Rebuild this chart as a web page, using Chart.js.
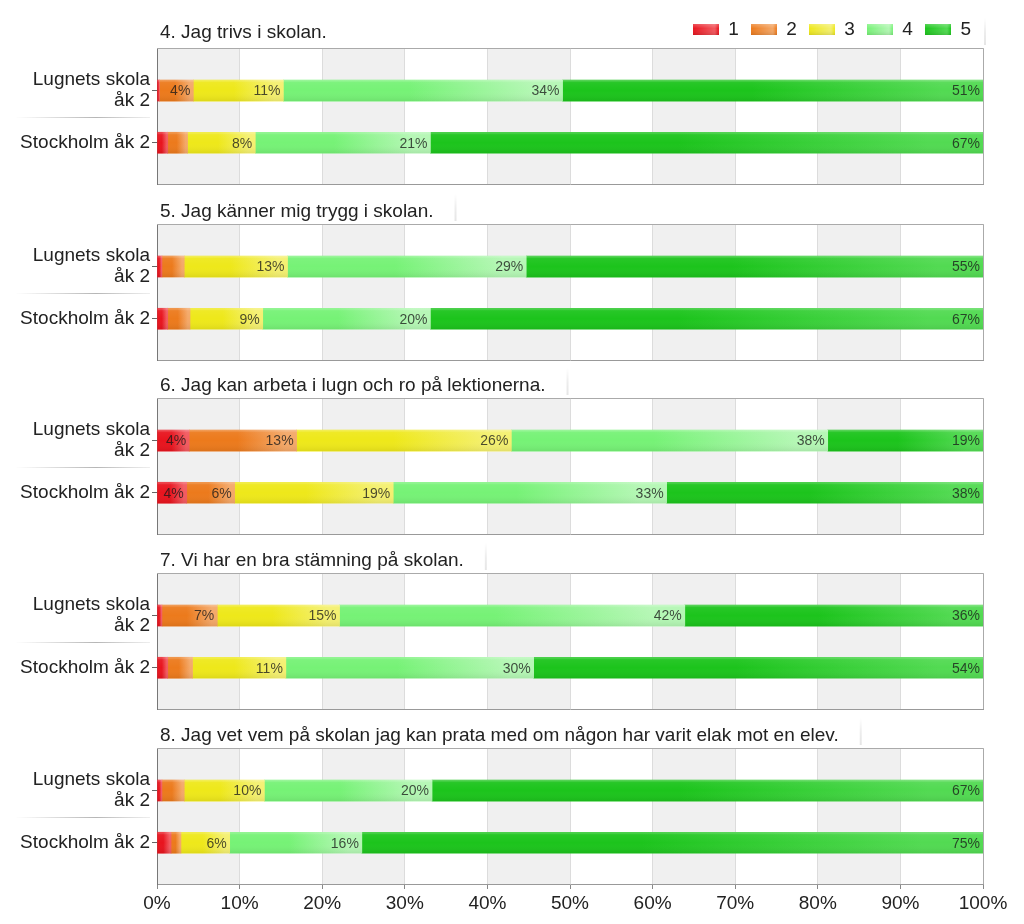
<!DOCTYPE html>
<html><head><meta charset="utf-8">
<script src="https://cdn.jsdelivr.net/npm/chart.js@4.4.0/dist/chart.umd.min.js"></script>
<style>
html,body{margin:0;padding:0;background:#fff;width:1024px;height:924px;overflow:hidden}
#wrap{position:relative;width:1024px;height:924px}
#wrap canvas{position:absolute;left:0}
</style></head><body>
<div id="wrap"></div>
<script>
// ---------- DATA ----------
const CATEGORIES = [['Lugnets skola', 'åk 2'], 'Stockholm åk 2'];
const SERIES_LABELS = ['1', '2', '3', '4', '5'];
const X_TICKS = [0, 10, 20, 30, 40, 50, 60, 70, 80, 90, 100];
const QUESTIONS = [
  '4. Jag trivs i skolan.',
  '5. Jag känner mig trygg i skolan.',
  '6. Jag kan arbeta i lugn och ro på lektionerna.',
  '7. Vi har en bra stämning på skolan.',
  '8. Jag vet vem på skolan jag kan prata med om någon har varit elak mot en elev.'
];
// values per answer 1..5 (percent)
const Q4_LUGNETS   = [0.3, 4.1, 10.9, 33.8, 50.9];
const Q4_STOCKHOLM = [1.3, 2.4, 8.2, 21.2, 66.9];
const Q5_LUGNETS   = [0.6, 2.7, 12.5, 28.9, 55.3];
const Q5_STOCKHOLM = [1.3, 2.7, 8.8, 20.3, 66.9];
const Q6_LUGNETS   = [3.9, 13.0, 26.0, 38.3, 18.8];
const Q6_STOCKHOLM = [3.6, 5.8, 19.2, 33.1, 38.3];
const Q7_LUGNETS   = [0.6, 6.7, 14.8, 41.8, 36.1];
const Q7_STOCKHOLM = [1.3, 3.0, 11.3, 30.0, 54.4];
const Q8_LUGNETS   = [0.6, 2.7, 9.7, 20.3, 66.7];
const Q8_STOCKHOLM = [1.7, 1.2, 5.9, 16.0, 75.2];

const ROWS = [
  [Q4_LUGNETS, Q4_STOCKHOLM],
  [Q5_LUGNETS, Q5_STOCKHOLM],
  [Q6_LUGNETS, Q6_STOCKHOLM],
  [Q7_LUGNETS, Q7_STOCKHOLM],
  [Q8_LUGNETS, Q8_STOCKHOLM]
];

// ---------- STYLE ----------
const BASE  = ['#e8141e', '#ec7a1c', '#eee81a', '#76f276', '#1cc41c'];
const LIGHT = ['#f25a60', '#f4a868', '#f4f070', '#b4f7b4', '#52da52'];
const FONT = '"Liberation Sans", Arial, sans-serif';
const PANEL_TOPS = [48, 224, 398, 573, 748];
const BOX_H = 136;

function swatch(i) {
  const c = document.createElement('canvas');
  c.width = 26; c.height = 11;
  const g = c.getContext('2d');
  const lg = g.createLinearGradient(0, 0, 26, 0);
  lg.addColorStop(0, BASE[i]); lg.addColorStop(0.85, LIGHT[i]); lg.addColorStop(1, BASE[i]);
  g.fillStyle = lg; g.fillRect(0, 0, 26, 11);
  const vg = g.createLinearGradient(0, 0, 0, 11);
  vg.addColorStop(0, 'rgba(255,255,255,0.25)'); vg.addColorStop(0.4, 'rgba(255,255,255,0)'); vg.addColorStop(1, 'rgba(0,0,0,0.1)');
  g.fillStyle = vg; g.fillRect(0, 0, 26, 11);
  return c;
}
const SWATCHES = SERIES_LABELS.map((_, i) => swatch(i));

const wrap = document.getElementById('wrap');

ROWS.forEach((rows, p) => {
  const last = p === ROWS.length - 1;
  const first = p === 0;
  const top = PANEL_TOPS[p] - 48;
  const h = last ? 924 - top : 48 + BOX_H + 2;
  const cv = document.createElement('canvas');
  cv.width = 1024; cv.height = h;
  cv.style.top = top + 'px'; cv.style.width = '1024px'; cv.style.height = h + 'px';
  wrap.appendChild(cv);

  const datasets = SERIES_LABELS.map((lab, s) => ({
    label: lab,
    data: rows.map((r, i) => ({ x: r[s], y: i })),
    barThickness: 21,
    borderWidth: 0,
    backgroundColor: (ctx) => {
      const chart = ctx.chart;
      const xs = chart.scales && chart.scales.x;
      if (!xs || ctx.type !== 'data') return BASE[s];
      const r = rows[ctx.dataIndex];
      let start = 0;
      for (let k = 0; k < s; k++) start += r[k];
      const x0 = xs.getPixelForValue(start), x1 = xs.getPixelForValue(start + r[s]);
      if (!isFinite(x0) || !isFinite(x1) || x1 - x0 < 1) return BASE[s];
      const g = chart.ctx.createLinearGradient(x0, 0, x1, 0);
      g.addColorStop(0, BASE[s]); g.addColorStop(0.45, BASE[s]); g.addColorStop(0.9, LIGHT[s]); g.addColorStop(1, LIGHT[s]);
      return g;
    }
  }));

  const panelPlugin = {
    id: 'panel' + p,
    afterInit(chart) {
      if (first && chart.legend) {
        const lg = chart.legend; const orig = lg.fit;
        lg.fit = function () { orig.call(this); this.height = 40; };
      }
    },
    beforeDraw(chart) {
      const { ctx, chartArea: a } = chart; const xs = chart.scales.x;
      ctx.save();
      ctx.fillStyle = '#f0f0f0';
      for (let k = 0; k < X_TICKS.length - 1; k += 2) {
        const x0 = xs.getPixelForValue(X_TICKS[k]), x1 = xs.getPixelForValue(X_TICKS[k + 1]);
        ctx.fillRect(x0, a.top, x1 - x0, a.bottom - a.top);
      }
      ctx.restore();
    },
    afterDatasetsDraw(chart) {
      const ctx = chart.ctx;
      ctx.save();
      chart.data.datasets.forEach((ds, di) => {
        const meta = chart.getDatasetMeta(di);
        meta.data.forEach((el) => {
          const x0 = Math.min(el.base, el.x), w = Math.abs(el.x - el.base);
          const y0 = el.y - el.height / 2;
          if (w > 0) {
            const vg = ctx.createLinearGradient(0, y0, 0, y0 + el.height);
            vg.addColorStop(0, 'rgba(255,255,255,0.3)');
            vg.addColorStop(0.12, 'rgba(255,255,255,0.05)');
            vg.addColorStop(0.5, 'rgba(255,255,255,0)');
            vg.addColorStop(1, 'rgba(0,0,0,0.07)');
            ctx.fillStyle = vg;
            ctx.fillRect(x0, y0, w, el.height);
          }
        });
      });
      ctx.font = '14px ' + FONT;
      ctx.textAlign = 'right'; ctx.textBaseline = 'middle';
      ctx.fillStyle = 'rgba(25,25,25,0.78)';
      chart.data.datasets.forEach((ds, di) => {
        const meta = chart.getDatasetMeta(di);
        meta.data.forEach((el, i) => {
          const v = ds.data[i].x;
          if (v >= 3.5) ctx.fillText(Math.round(v) + '%', el.x - 3, el.y + 1);
        });
      });
      ctx.restore();
    },
    afterDraw(chart) {
      const { ctx, chartArea: a } = chart; const ys = chart.scales.y;
      ctx.save();
      ctx.strokeStyle = '#aaa'; ctx.lineWidth = 1;
      ctx.beginPath();
      ctx.moveTo(a.left, a.top + 0.5); ctx.lineTo(a.right + 0.5, a.top + 0.5);
      ctx.lineTo(a.right + 0.5, a.bottom);
      ctx.stroke();
      // separator between category labels
      const ym = Math.round(ys.getPixelForValue(0.5)) + 0.5;
      const sg = ctx.createLinearGradient(15, 0, 150, 0);
      sg.addColorStop(0, 'rgba(160,160,160,0)');
      sg.addColorStop(0.6, 'rgba(150,150,150,0.7)');
      sg.addColorStop(1, 'rgba(170,170,170,0.2)');
      ctx.strokeStyle = sg;
      ctx.beginPath(); ctx.moveTo(15, ym); ctx.lineTo(150, ym); ctx.stroke();
      // title
      ctx.font = '19px ' + FONT;
      ctx.fillStyle = '#222'; ctx.textAlign = 'left'; ctx.textBaseline = 'middle';
      const ty = a.top - (first ? 15 : 12);
      ctx.fillText(QUESTIONS[p], 160, ty);
      const tw = ctx.measureText(QUESTIONS[p]).width;
      const lx = first ? a.right + 2 : 160 + tw + 22;
      const lg2 = ctx.createLinearGradient(0, a.top - 30, 0, a.top - 2);
      lg2.addColorStop(0, 'rgba(0,0,0,0)');
      lg2.addColorStop(0.5, 'rgba(0,0,0,0.07)');
      lg2.addColorStop(1, 'rgba(0,0,0,0.1)');
      ctx.strokeStyle = lg2; ctx.lineWidth = 2;
      ctx.beginPath(); ctx.moveTo(lx, a.top - 30); ctx.lineTo(lx, a.top - 3); ctx.stroke();
      ctx.restore();
    }
  };

  new Chart(cv, {
    type: 'bar',
    data: { datasets },
    options: {
      indexAxis: 'y',
      responsive: false,
      animation: false,
      layout: { padding: { top: first ? 8 : 48, right: 41, bottom: last ? 0 : 2, left: 0 } },
      plugins: {
        tooltip: { enabled: false },
        title: { display: false },
        legend: {
          display: first,
          position: 'top',
          align: 'end',
          labels: {
            usePointStyle: true,
            pointStyleWidth: 26,
            boxHeight: 11,
            padding: 12,
            color: '#222',
            font: { family: FONT, size: 19 },
            generateLabels: () => SERIES_LABELS.map((t, i) => ({
              text: t, fillStyle: BASE[i], strokeStyle: 'rgba(0,0,0,0)', lineWidth: 0,
              pointStyle: SWATCHES[i], hidden: false, datasetIndex: i, fontColor: '#222'
            }))
          }
        }
      },
      scales: {
        x: {
          type: 'linear', stacked: true, min: 0, max: 100,
          afterFit: (s) => { s.height = last ? 40 : 0; s.paddingLeft = 0; s.paddingRight = 0; },
          afterBuildTicks: (s) => { s.ticks = X_TICKS.map(v => ({ value: v })); },
          grid: { color: '#dcdcdc', drawTicks: last, tickLength: 5, tickColor: '#888' },
          border: { display: true, color: '#999' },
          ticks: {
            display: last, padding: 3, color: '#222',
            font: { family: FONT, size: 19 },
            callback: (v) => v + '%'
          }
        },
        y: {
          type: 'linear', stacked: true, reverse: true, offset: false, min: -0.815, max: 1.79,
          afterFit: (s) => { s.width = 157; s.paddingTop = 0; s.paddingBottom = 0; },
          afterBuildTicks: (s) => { s.ticks = CATEGORIES.map((_, i) => ({ value: i })); },
          grid: { offset: false, drawOnChartArea: false, drawTicks: true, tickLength: 5, color: '#666' },
          border: { display: true, color: '#777' },
          ticks: {
            padding: 2, color: '#222',
            font: { family: FONT, size: 19, lineHeight: 1.1 },
            callback: (v) => CATEGORIES[v]
          }
        }
      }
    },
    plugins: [panelPlugin]
  });
});
</script>
</body></html>
